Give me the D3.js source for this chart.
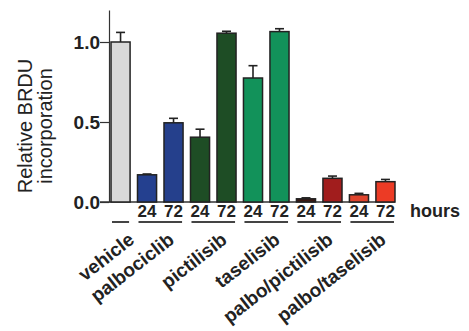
<!DOCTYPE html>
<html><head><meta charset="utf-8">
<script src="https://cdn.jsdelivr.net/npm/d3@7/dist/d3.min.js"></script>
<style>
body{margin:0;background:#fff;}
svg{display:block;font-family:"Liberation Sans",Arial,Helvetica,sans-serif;}
</style></head>
<body><svg id="c" width="469" height="331"></svg>
<script>
// ---- data ----
const groups = ["vehicle","palbociclib","pictilisib","taselisib","palbo/pictilisib","palbo/taselisib"];
const barGroup = ["vehicle","palbociclib","palbociclib","pictilisib","pictilisib","taselisib","taselisib","palbo/pictilisib","palbo/pictilisib","palbo/taselisib","palbo/taselisib"];
const barHours = ["","24","72","24","72","24","72","24","72","24","72"];
const values   = [1.00,0.17,0.495,0.405,1.055,0.775,1.065,0.02,0.148,0.045,0.127];
const errors   = [0.06,0.005,0.028,0.05,0.012,0.077,0.018,0.006,0.014,0.009,0.014];
const colors   = ["#d9d9d9","#24408f","#25408c","#1e4d25","#1e4d25","#12925a","#12925a","#3a1812","#a11d1d","#df452e","#ec3b25"];
const yTicks = [0.0,0.5,1.0];
const yLabel = ["Relative BRDU","incorporation"];
const hoursLabel = "hours";

// ---- layout ----
const svg = d3.select("#c");
const keys = values.map((d,i)=>i);
const x = d3.scaleBand().domain(keys).range([107.3,398.7]).paddingInner(0.28).paddingOuter(0.14);
const y = d3.scaleLinear().domain([0,1.2]).range([202,10]);
const ink = "#222";

// y axis
const yAxis = svg.append("g").attr("transform","translate(109,0)")
  .call(d3.axisLeft(y).tickValues(yTicks).tickFormat(d3.format(".1f")).tickSize(9).tickSizeOuter(0));
yAxis.select(".domain").attr("stroke","#333").attr("stroke-width",1.2);
yAxis.selectAll(".tick line").attr("stroke","#333").attr("stroke-width",1.2);
yAxis.selectAll(".tick text").attr("font-size",19).attr("font-weight","bold").attr("fill",ink).attr("x",-9).attr("dy","0.36em");

// baseline
svg.append("line").attr("x1",100).attr("x2",x(keys.length-1)+x.bandwidth()).attr("y1",y(0)).attr("y2",y(0))
  .attr("stroke","#333").attr("stroke-width",1.4);

// bars
svg.append("g").selectAll("rect").data(keys).join("rect")
  .attr("x",i=>x(i)).attr("width",x.bandwidth())
  .attr("y",i=>y(values[i])).attr("height",i=>y(0)-y(values[i]))
  .attr("fill",i=>colors[i]).attr("stroke",ink).attr("stroke-width",1.5);

// error bars
const eb = svg.append("g").attr("stroke",ink).attr("stroke-width",1.6);
keys.forEach(i=>{
  const cx = x(i)+x.bandwidth()/2;
  eb.append("line").attr("x1",cx).attr("x2",cx).attr("y1",y(values[i])).attr("y2",y(values[i]+errors[i]));
  eb.append("line").attr("x1",cx-4.5).attr("x2",cx+4.5).attr("y1",y(values[i]+errors[i])).attr("y2",y(values[i]+errors[i]));
});

// hour labels
svg.append("g").selectAll("text").data(keys.filter(i=>barHours[i]!=="")).join("text")
  .attr("x",i=>x(i)+x.bandwidth()/2).attr("y",217).attr("text-anchor","middle")
  .attr("font-size",17).attr("font-weight","bold").attr("fill",ink).text(i=>barHours[i]);
svg.append("text").attr("x",410).attr("y",217).attr("font-size",18).attr("font-weight","bold").attr("fill",ink).text(hoursLabel);

// group underlines and labels
groups.forEach(g=>{
  const idx = keys.filter(i=>barGroup[i]===g);
  const x0 = x(idx[0])+1, x1 = x(idx[idx.length-1])+x.bandwidth()-1;
  svg.append("line").attr("x1",x0).attr("x2",x1).attr("y1",222).attr("y2",222).attr("stroke","#444").attr("stroke-width",2);
  const cx = (x0+x1)/2;
  svg.append("text").attr("text-anchor","end").attr("font-size",19).attr("font-weight","bold").attr("fill",ink)
    .attr("transform",`translate(${cx+15},242) rotate(-38)`).text(g);
});

// y label
yLabel.forEach((t,k)=>{
  svg.append("text").attr("text-anchor","middle").attr("font-size",20).attr("fill",ink)
    .attr("transform",`translate(${32+k*19.5},126) rotate(-90)`).text(t);
});
</script></body></html>
